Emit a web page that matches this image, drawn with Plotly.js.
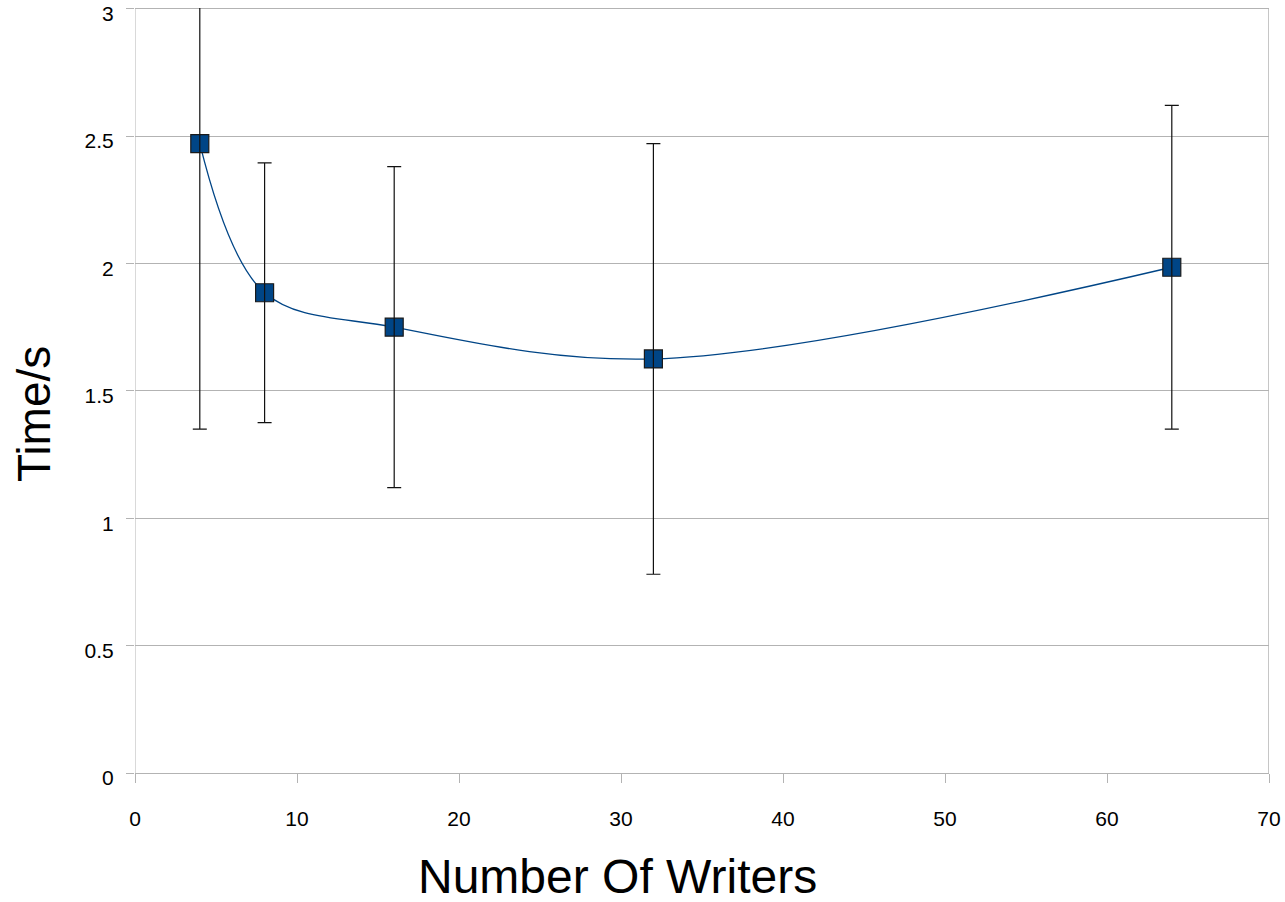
<!DOCTYPE html>
<html>
<head>
<meta charset="utf-8">
<script src="https://cdn.plot.ly/plotly-3.0.1.min.js"></script>
<style>body{margin:0;padding:0;background:#fff;} #chart{width:1285px;height:902px;}</style>
</head>
<body>
<div id="chart"></div>
<script>
const writers = [4, 8, 16, 32, 64];
const timeSec = [2.47, 1.885, 1.75, 1.625, 1.985];
const errPlusMinus = [1.12, 0.51, 0.63, 0.845, 0.635];
const xTicks = [0, 10, 20, 30, 40, 50, 60, 70];
const yTicks = [0, 0.5, 1, 1.5, 2, 2.5, 3];
const xTitle = 'Number Of Writers';
const yTitle = 'Time/s';

const lineTrace = {
  x: writers, y: timeSec, type: 'scatter', mode: 'lines+markers',
  line: {color: '#004586', width: 1.3, shape: 'spline', smoothing: 1},
  marker: {symbol: 'square', size: 18, color: '#004586', line: {color: '#1a1a1a', width: 1.2}},
  hoverinfo: 'x+y', showlegend: false
};
const errTrace = {
  x: writers, y: timeSec, type: 'scatter', mode: 'markers',
  marker: {opacity: 0, size: 1},
  error_y: {type: 'data', array: errPlusMinus, visible: true, color: '#111111', thickness: 1.2, width: 7},
  hoverinfo: 'skip', showlegend: false
};

const yTop = 3.03;
const plotTop = 1;
const plotH = 902 - 129 - plotTop;

const layout = {
  width: 1285, height: 902,
  margin: {l: 135, r: 16, t: plotTop, b: 129},
  paper_bgcolor: '#ffffff', plot_bgcolor: '#ffffff',
  font: {family: 'Liberation Sans, Arial, sans-serif', color: '#000'},
  xaxis: {
    range: [0, 70], tickvals: xTicks, ticktext: xTicks.map(String),
    showgrid: false, zeroline: false, showline: true, linecolor: '#b3b3b3', linewidth: 1,
    ticks: 'outside', ticklen: 9, tickcolor: '#b3b3b3', tickfont: {size: 21},
    ticklabelstandoff: 18
  },
  yaxis: {
    range: [0, yTop], tickvals: yTicks, ticktext: yTicks.map(String),
    showgrid: true, gridcolor: '#b3b3b3', gridwidth: 1, zeroline: false,
    showline: false,
    ticks: 'outside', ticklen: 8, tickcolor: '#b3b3b3', tickfont: {size: 21},
    ticklabelstandoff: 8, ticklabelshift: 5, ticklabeloverflow: 'allow'
  },
  shapes: [
    {type: 'rect', xref: 'paper', yref: 'y', x0: 0, x1: 1, y0: 3.003, y1: yTop,
     fillcolor: '#ffffff', line: {width: 0}, layer: 'above'},
    {type: 'line', xref: 'x', yref: 'y', x0: 0, x1: 0, y0: 0, y1: 3, line: {color: '#b3b3b3', width: 1}, layer: 'above'},
    {type: 'line', xref: 'x', yref: 'y', x0: 70, x1: 70, y0: 0, y1: 3, line: {color: '#b3b3b3', width: 1.5}, layer: 'above'}
  ],
  annotations: [
    {text: xTitle, xref: 'paper', yref: 'paper', x: (617 - 135) / 1134, y: -(876 - 773) / plotH,
     xanchor: 'center', yanchor: 'middle', showarrow: false, font: {size: 48}},
    {text: yTitle, xref: 'paper', yref: 'paper', x: (34 - 135) / 1134, y: (773 - 414) / plotH,
     xanchor: 'center', yanchor: 'middle', textangle: -90, showarrow: false, font: {size: 46}}
  ]
};

Plotly.newPlot('chart', [lineTrace, errTrace], layout, {displayModeBar: false, staticPlot: true});
</script>
</body>
</html>
